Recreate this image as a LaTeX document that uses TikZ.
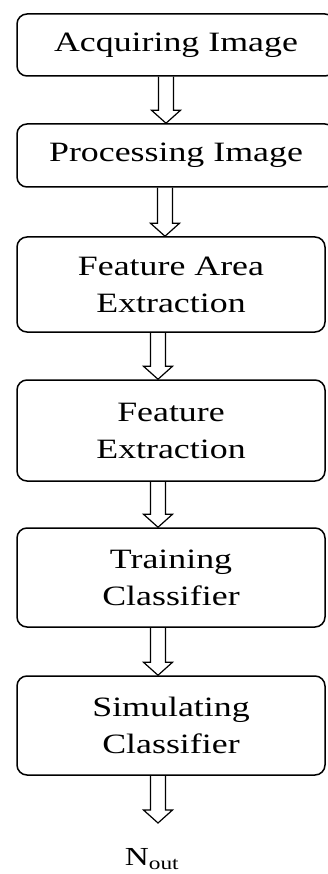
\documentclass[tikz,border=0pt]{standalone}
\usepackage{fontspec}
\setmainfont{Liberation Serif}[FakeStretch=1.28]
\usetikzlibrary{calc}

\tikzset{
  stage/.style={draw, line width=1.5pt, rounded corners=10pt, align=center,
    inner sep=0pt, font=\fontsize{28}{37}\selectfont},
  hollow/.style={line width=1.2pt, line join=miter, to path={
    let \p1=(\tikztostart), \p2=(\tikztotarget) in
    (\x1-7.5pt,\y1) -- (\x1-7.5pt,\y2+13pt) -- (\x1-14.5pt,\y2+13pt) -- (\x1,\y2)
    -- (\x1+14.5pt,\y2+13pt) -- (\x1+7.5pt,\y2+13pt) -- (\x1+7.5pt,\y1)}}
}

\begin{document}
\begin{tikzpicture}[x=1pt, y=-1pt]
  \useasboundingbox (0,0) rectangle (328,874);
  \clip (0,0) rectangle (328,874);

  \node[stage, minimum width=318pt, minimum height=62pt] (acq) at (176,45) {Acquiring Image};
  \node[stage, minimum width=318pt, minimum height=63pt] (proc) at (176,155.5) {Processing Image};
  \node[stage, minimum width=308pt, minimum height=95pt] (area) at (171,284.5) {Feature Area\\Extraction};
  \node[stage, minimum width=308pt, minimum height=101pt] (feat) at (171,430.5) {Feature\\Extraction};
  \node[stage, minimum width=308pt, minimum height=99pt] (train) at (171,577.5) {Training\\Classifier};
  \node[stage, minimum width=308pt, minimum height=99pt] (sim) at (171,725.5) {Simulating\\Classifier};
  \coordinate (nend) at (158,823);
  \node[font=\fontsize{26}{30}\selectfont, inner sep=0pt] (nout) at (152,859) {N\textsubscript{out}};

  \draw[hollow] ([xshift=-10pt]acq.south) to ([xshift=-10pt]proc.north);
  \draw[hollow] ([xshift=-11pt]proc.south) to ([xshift=-11pt]area.north);
  \draw[hollow] ([xshift=-13pt]area.south) to ([xshift=-13pt]feat.north);
  \draw[hollow] ([xshift=-13pt]feat.south) to ([xshift=-13pt]train.north);
  \draw[hollow] ([xshift=-13pt]train.south) to ([xshift=-13pt]sim.north);
  \draw[hollow] (sim.south -| nend) to (nend);
\end{tikzpicture}
\end{document}
